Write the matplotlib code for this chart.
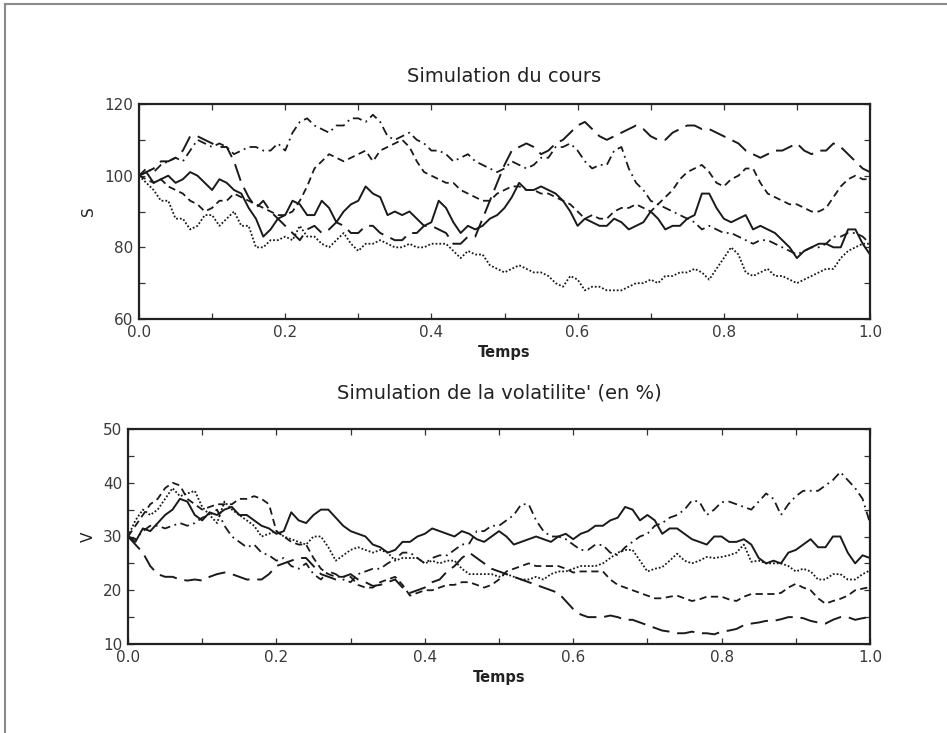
import numpy as np
import matplotlib
matplotlib.use("Agg")
import matplotlib.pyplot as plt
from matplotlib.lines import Line2D

# ---------------- data ----------------
t = [round(0.01 * i, 2) for i in range(101)]

# Top panel: simulated price S
S_solid = [100, 101, 98, 99, 100, 98, 99, 101, 100, 98,
           96, 99, 98, 96, 95, 91, 88, 83, 85, 88,
           89, 93, 92, 89, 89, 93, 91, 87, 90, 92,
           93, 97, 95, 94, 89, 90, 89, 90, 88, 86,
           87, 93, 91, 87, 84, 86, 85, 86, 88, 89,
           91, 94, 98, 96, 96, 97, 96, 95, 93, 90,
           86, 88, 87, 86, 86, 88, 87, 85, 86, 87,
           90, 88, 85, 86, 86, 88, 89, 95, 95, 91,
           88, 87, 88, 89, 85, 86, 85, 84, 82, 80,
           77, 79, 80, 81, 81, 80, 80, 85, 85, 81,
           78]
S_dotted = [100, 98, 96, 93, 93, 88, 88, 85, 86, 89,
            89, 86, 88, 90, 86, 86, 80, 80, 82, 82,
            83, 82, 86, 83, 83, 81, 80, 82, 84, 81,
            79, 81, 81, 82, 81, 80, 80, 81, 80, 80,
            81, 81, 81, 79, 77, 79, 78, 78, 75, 74,
            73, 74, 75, 74, 73, 73, 72, 70, 69, 72,
            71, 68, 69, 69, 68, 68, 68, 69, 70, 70,
            71, 70, 72, 72, 73, 73, 74, 73, 71, 74,
            77, 80, 78, 73, 72, 73, 74, 72, 72, 71,
            70, 71, 72, 73, 74, 74, 77, 79, 80, 81,
            81]
S_dashdot = [100, 102, 101, 103, 104, 105, 104, 107, 110, 109,
             108, 109, 108, 106, 107, 108, 108, 107, 107, 109,
             107, 112, 115, 116, 114, 113, 112, 114, 114, 116,
             116, 115, 117, 115, 111, 110, 111, 112, 110, 109,
             107, 107, 106, 104, 105, 106, 104, 103, 102, 101,
             102, 104, 103, 102, 103, 105, 105, 108, 108, 109,
             107, 104, 102, 103, 103, 107, 108, 102, 98, 96,
             93, 92, 91, 90, 89, 88, 87, 85, 86, 85,
             84, 84, 83, 82, 81, 82, 82, 81, 80, 79,
             78, 79, 80, 80, 81, 83, 83, 84, 84, 83,
             81]
S_longdash = [100, 101, 102, 104, 104, 105, 107, 111, 111, 110,
              109, 108, 108, 104, 98, 94, 91, 93, 90, 88,
              86, 84, 82, 85, 86, 84, 85, 87, 86, 84,
              84, 86, 86, 84, 83, 82, 82, 84, 84, 86,
              86, 85, 84, 81, 81, 83, 83, 88, 93, 98,
              103, 107, 108, 109, 108, 106, 107, 109, 110, 112,
              114, 115, 113, 111, 110, 111, 112, 113, 114, 113,
              111, 110, 110, 112, 113, 114, 114, 113, 113, 112,
              111, 110, 109, 107, 106, 105, 106, 107, 107, 108,
              109, 107, 106, 107, 107, 109, 108, 106, 104, 102,
              101]
S_dashed = [100, 99, 98, 99, 97, 96, 95, 93, 92, 90,
            91, 93, 93, 95, 94, 93, 92, 91, 90, 89,
            89, 90, 93, 97, 102, 104, 106, 105, 104, 105,
            106, 107, 104, 107, 108, 109, 110, 108, 104, 101,
            100, 99, 98, 98, 96, 95, 94, 93, 93, 95,
            96, 97, 97, 96, 96, 95, 95, 94, 93, 92,
            90, 88, 89, 88, 88, 90, 91, 91, 92, 91,
            90, 92, 94, 96, 99, 101, 102, 103, 101, 98,
            97, 99, 100, 102, 102, 98, 95, 94, 93, 92,
            92, 91, 90, 90, 91, 94, 97, 99, 100, 99,
            99]

# Bottom panel: simulated volatility V (in %)
V_solid = [30, 29, 31.5, 31, 32.5, 34, 35, 37, 36.5, 34,
           33, 34.5, 34, 35, 35.5, 34, 34, 33, 32, 31.5,
           30.5, 31, 34.5, 33, 32.5, 34, 35, 35, 33.5, 32,
           31, 30.5, 30, 28.5, 28, 27, 27.5, 29, 29, 30,
           30.5, 31.5, 31, 30.5, 30, 31, 30.5, 29.5, 29, 30,
           31, 30, 28.5, 29, 29.5, 30, 29.5, 29, 30, 30.5,
           29.5, 30.5, 31, 32, 32, 33, 33.5, 35.5, 35, 33,
           34, 33, 30.5, 31.5, 31.5, 30.5, 29.5, 29, 28.5, 30,
           30, 29, 29, 29.5, 28.5, 26, 25, 25.5, 25, 27,
           27.5, 28.5, 29.5, 28, 28, 30, 30, 27, 25, 26.5,
           26]
V_dotted = [30, 33, 35, 34, 35, 37, 39, 37.5, 38, 38.5,
            35.5, 34, 32.5, 36.5, 35, 34, 33, 32, 30, 30.5,
            31, 30, 29.5, 29, 28.5, 30, 30, 28, 25.5, 26.5,
            27.5, 28, 27.5, 27, 27.5, 27, 25.5, 26, 26, 26,
            25, 25.5, 25, 25.5, 25.5, 24, 23, 23, 23, 23,
            22.5, 23, 22.5, 22, 22, 22.5, 22, 23, 23.5, 23.5,
            24, 24.5, 24.5, 24.5, 25, 26, 27, 27.5, 27.5, 25.5,
            23.5, 24, 24.3, 25.5, 26.8, 25.5, 25, 25.5, 26.2, 26,
            26.2, 26.5, 27, 28.5, 25.3, 25.5, 25, 25, 25, 24.5,
            23.5, 24, 23.5, 22, 22, 23, 23, 22, 22, 23,
            23.7]
V_dashdot = [30, 29.5, 31, 32, 32, 31.5, 32, 32.5, 32, 32.5,
             33.5, 34, 35, 32, 30, 29, 28, 28.5, 27, 26.5,
             25.5, 26, 24.5, 24, 25, 23, 22, 23.5, 23, 22,
             21.5, 23, 23.5, 24, 24, 25, 25.8, 27, 27, 26,
             25, 26, 26.5, 26.5, 27.5, 28.5, 28.7, 31, 31, 32,
             32, 33, 34, 36, 36, 33, 31, 30, 30, 29.5,
             28.5, 27.5, 27.5, 28.5, 28.4, 27, 26.5, 28, 29, 30,
             30.5, 32, 32.5, 33.5, 34, 35, 36.7, 36.5, 34, 35,
             36.4, 36.5, 36, 35.5, 35, 36.5, 38, 37, 34, 36,
             37.5, 38.5, 38.5, 38.5, 39.5, 40.5, 42, 40.5, 39, 37,
             32.5]
V_longdash = [30, 28.5, 27, 24.5, 23, 22.5, 22.5, 22, 21.8, 22,
              21.8, 22.5, 23, 23.3, 23, 22.5, 22, 22, 22, 23,
              24.5, 25, 25.5, 26, 26, 24.5, 23, 22.5, 22, 22.5,
              23, 22, 21.5, 20.8, 21, 21.5, 22, 20.5, 19.5, 20,
              20.5, 21.5, 22, 23.5, 24.5, 26, 27, 26, 25, 24,
              23.5, 23, 22.5, 22, 21.5, 21, 20.5, 20, 19.5, 18,
              16.5, 15.5, 15, 15, 15, 15.3, 15, 14.5, 14.5, 14,
              13.5, 13, 12.5, 12.3, 12, 12, 12.3, 12, 12, 11.8,
              12.3, 12.5, 12.8, 13.5, 13.8, 14, 14.3, 14.3, 14.6, 15,
              15, 14.8, 14.3, 14, 13.8, 14.5, 15, 15, 14.5, 14.8,
              15]
V_dashed = [30, 32, 34, 36, 37, 39, 40, 39.5, 37, 36,
            35, 35.5, 36, 36, 36, 37, 37, 37.5, 37, 36,
            31, 30, 29, 28.5, 28.5, 26, 24, 23, 22.5, 22.5,
            22.5, 21, 20.5, 20.5, 21.5, 22, 22.5, 21, 19, 19.5,
            20, 20, 20.5, 21, 21, 21.5, 21.5, 21, 20.5, 21,
            22, 23.5, 24, 24.5, 25, 24.5, 24.5, 24.5, 24.5, 24,
            23.3, 23.5, 23.5, 23.5, 23.5, 22, 21, 20.5, 20, 19.5,
            19, 18.5, 18.5, 18.8, 19, 18.5, 18, 18.3, 18.8, 18.8,
            18.8, 18.3, 18, 18.8, 19.3, 19.3, 19.3, 19.3, 19.5, 20.5,
            21.2, 20.5, 20, 18.5, 17.5, 18, 18.4, 19, 20, 20.3,
            20.6]

x_ticks = [0.0, 0.1, 0.2, 0.3, 0.4, 0.5, 0.6, 0.7, 0.8, 0.9, 1.0]
x_ticklabels = ["0.0", "", "0.2", "", "0.4", "", "0.6", "", "0.8", "", "1.0"]
S_ticks = [60, 70, 80, 90, 100, 110, 120]
S_ticklabels = ["60", "", "80", "", "100", "", "120"]
V_ticks = [10, 15, 20, 25, 30, 35, 40, 45, 50]
V_ticklabels = ["10", "", "20", "", "30", "", "40", "", "50"]

title_top = "Simulation du cours"
title_bottom = "Simulation de la volatilite' (en %)"
xlabel = "Temps"

# ---------------- figure ----------------
W, H = 947, 733
fig = plt.figure(figsize=(W / 100, H / 100), dpi=100)
plt.rcParams['font.family'] = ['DejaVu Sans']

ink = '#1a1a1a'
styles = {
    'solid': dict(linestyle='-', lw=1.4),
    'dotted': dict(linestyle=(0, (1, 1.1)), lw=1.3),
    'dashdot': dict(linestyle=(0, (5, 2.5, 1, 2.5)), lw=1.3),
    'longdash': dict(linestyle=(0, (9, 4)), lw=1.4),
    'dashed': dict(linestyle=(0, (4, 2.5)), lw=1.3),
}


def frac_rect(x0, y0, x1, y1):
    return [x0 / W, 1 - y1 / H, (x1 - x0) / W, (y1 - y0) / H]


ax1 = fig.add_axes(frac_rect(139, 104, 870, 319))
ax2 = fig.add_axes(frac_rect(128, 429, 870, 644))

for ax, series, yt, ytl, ylim, ylab, ylab_y in [
    (ax1, [(S_solid, 'solid'), (S_dotted, 'dotted'), (S_dashdot, 'dashdot'),
           (S_longdash, 'longdash'), (S_dashed, 'dashed')],
     S_ticks, S_ticklabels, (60, 120), "S", 1 - 211.5 / H),
    (ax2, [(V_solid, 'solid'), (V_dotted, 'dotted'), (V_dashdot, 'dashdot'),
           (V_longdash, 'longdash'), (V_dashed, 'dashed')],
     V_ticks, V_ticklabels, (10, 50), "V", 1 - 536.5 / H),
]:
    for vals, st in series:
        ax.plot(t, vals, color=ink, **styles[st])
    ax.set_xlim(0, 1)
    ax.set_ylim(*ylim)
    ax.set_xticks(x_ticks)
    ax.set_xticklabels(x_ticklabels)
    ax.set_yticks(yt)
    ax.set_yticklabels(ytl)
    ax.tick_params(direction='in', length=4, width=0.9, top=True, right=True,
                   labelsize=11, labelcolor='#3a3a3a', color='#333333', pad=4)
    for sp in ax.spines.values():
        sp.set_linewidth(1.6)
        sp.set_color('#222222')
    ax.set_xlabel(xlabel, fontsize=10.5, fontweight='bold', color='#222222', labelpad=4)
    ax.set_ylabel(ylab, fontsize=11, color='#222222', rotation=90)
    ax.yaxis.set_label_coords(96 / W, ylab_y, transform=fig.transFigure)

fig.text(504 / W, 1 - 77 / H, title_top, ha='center', va='center',
         fontsize=14, color='#222222')
fig.text(499 / W, 1 - 393 / H, title_bottom, ha='center', va='center',
         fontsize=14, color='#222222')

# page frame (top and left edges)
fig.add_artist(Line2D([5 / W, 1], [1 - 4 / H, 1 - 4 / H], transform=fig.transFigure,
                      color='#8a8a8a', lw=1.5))
fig.add_artist(Line2D([5 / W, 5 / W], [0, 1 - 4 / H], transform=fig.transFigure,
                      color='#8a8a8a', lw=1.5))

fig.savefig("out.png", dpi=100, facecolor='white')
